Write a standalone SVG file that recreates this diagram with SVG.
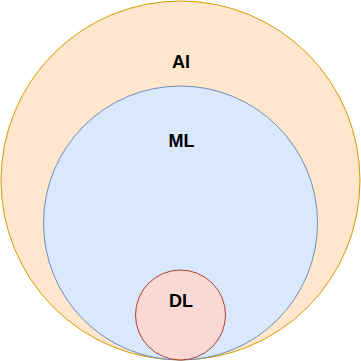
<svg xmlns="http://www.w3.org/2000/svg" width="361" height="361" viewBox="0 0 361 361">
  <style>
    .lbl { font-family: "Liberation Sans", Arial, Helvetica, sans-serif; font-size: 18px; font-weight: bold; fill: #000000; text-anchor: middle; }
  </style>
  <rect width="361" height="361" fill="#ffffff"/>
  <g id="ai">
    <circle cx="180.5" cy="180.5" r="179.5" fill="#ffe6cc" stroke="#d79b00"/>
    <text class="lbl" x="181" y="67.5">AI</text>
  </g>
  <g id="ml">
    <circle cx="180.5" cy="223" r="137" fill="#dae8fc" stroke="#6c8ebf"/>
    <text class="lbl" x="181.5" y="147.3">ML</text>
  </g>
  <g id="dl">
    <circle cx="180.5" cy="315" r="45" fill="#fad9d5" stroke="#ae4132"/>
    <text class="lbl" x="181" y="307">DL</text>
  </g>
  <g id="connectors"/>
</svg>
